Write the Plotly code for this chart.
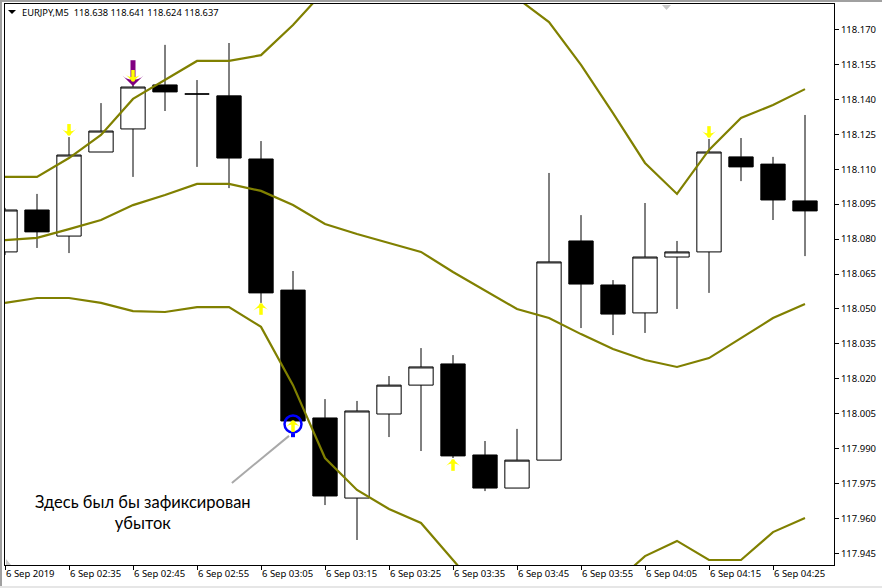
import plotly.graph_objects as go

# --- data ---
bars = list(range(26))
open_ = [118.0745, 118.0925, 118.0813, 118.1174, 118.1273, 118.1462, 118.1423, 118.1415, 118.1144, 118.0581,
         118.0032, 117.9688, 118.0049, 118.0173, 118.0264, 117.9873, 117.9731, 117.9851, 118.0792, 118.0603,
         118.0483, 118.0723, 118.0745, 118.1153, 118.1122, 118.0964]
high = [118.0934, 118.0994, 118.1238, 118.1384, 118.1526, 118.1634, 118.1483, 118.1642, 118.1221, 118.0663,
        118.0113, 118.0105, 118.0212, 118.0332, 118.0302, 117.9933, 117.9985, 118.1084, 118.0903, 118.0624,
        118.0955, 118.0792, 118.1230, 118.1234, 118.1153, 118.1333]
low = [118.0732, 118.0762, 118.0740, 118.1174, 118.1067, 118.1350, 118.1110, 118.1019, 118.0526, 118.0019,
       117.9658, 117.9508, 117.9950, 117.9890, 117.9860, 117.9718, 117.9731, 117.9851, 118.0418, 118.0388,
       118.0397, 118.0500, 118.0569, 118.1049, 118.0882, 118.0727]
close = [118.0925, 118.0831, 118.1161, 118.1264, 118.1453, 118.1432, 118.1423, 118.1148, 118.0569, 118.0019,
         117.9697, 118.0062, 118.0173, 118.0251, 117.9869, 117.9731, 117.9851, 118.0702, 118.0607, 118.0478,
         118.0723, 118.0745, 118.1174, 118.1110, 118.0968, 118.0921]
upper = [118.1067, 118.1067, 118.1148, 118.1247, 118.1402, 118.1483, 118.1565, 118.1565, 118.1590, 118.1719,
         118.1870, 118.1955, 118.2041, 118.2084, 118.2063, 118.1998, 118.1835, 118.1732, 118.1548, 118.1341,
         118.1127, 118.0994, 118.1183, 118.1320, 118.1376, 118.1444]
middle = [118.0796, 118.0805, 118.0843, 118.0882, 118.0946, 118.0989, 118.1037, 118.1037, 118.1007, 118.0946,
          118.0865, 118.0822, 118.0783, 118.0745, 118.0659, 118.0581, 118.0500, 118.0461, 118.0392, 118.0328,
          118.0281, 118.0251, 118.0289, 118.0375, 118.0461, 118.0521]
lower = [118.0526, 118.0547, 118.0547, 118.0526, 118.0491, 118.0487, 118.0508, 118.0508, 118.0423, 118.0173,
         117.9860, 117.9723, 117.9641, 117.9581, 117.9422, 117.9263, 117.9207, 117.9207, 117.9250, 117.9315,
         117.9439, 117.9504, 117.9422, 117.9422, 117.9542, 117.9602]

signal_down_x = [2, 4, 22]
signal_down_y = [118.1243, 118.1475, 118.1234]
signal_down_stem = [118.1270, 118.1502, 118.1261]
signal_up_x = [8, 9, 14]
signal_up_y = [118.0526, 118.0023, 117.9856]
signal_up_stem = [118.0499, 117.9996, 117.9829]
sell_x = [4]
sell_y = [118.1457]
sell_stem = [118.1520]
stop_x = [9]
stop_y = [118.0006]
stop_stem = [117.9958]

x_ticks = list(range(0, 25, 2))
x_labels = ["6 Sep 2019", "6 Sep 02:35", "6 Sep 02:45", "6 Sep 02:55", "6 Sep 03:05", "6 Sep 03:15",
            "6 Sep 03:25", "6 Sep 03:35", "6 Sep 03:45", "6 Sep 03:55", "6 Sep 04:05", "6 Sep 04:15", "6 Sep 04:25"]
y_ticks = [118.170, 118.155, 118.140, 118.125, 118.110, 118.095, 118.080, 118.065, 118.050, 118.035,
           118.020, 118.005, 117.990, 117.975, 117.960, 117.945]
y_labels = [f"{v:.3f}" for v in y_ticks]
title = "EURJPY,M5  118.638 118.641 118.624 118.637"
note = "Здесь был бы зафиксирован<br>убыток"

FONT = "Noto Sans"
OLIVE = "#808000"
W, H = 882, 588
L, R, T, B = 5, 48, 4, 23
PW, PH = W - L - R, H - T - B


def px(x):
    return (x - L) / PW


def py(y):
    return 1 - (y - T) / PH


def marks(x, y, symbol, size, color, width=0, line_color=None, angle=0):
    return go.Scatter(x=x, y=y, mode="markers", hoverinfo="skip", showlegend=False,
                      marker=dict(symbol=symbol, size=size, color=color, angle=angle,
                                  line=dict(width=width, color=line_color or color)))


fig = go.Figure()
fig.add_trace(go.Candlestick(
    x=bars, open=open_, high=high, low=low, close=close,
    increasing=dict(fillcolor="white", line=dict(color="black", width=1)),
    decreasing=dict(fillcolor="black", line=dict(color="black", width=1)),
    whiskerwidth=0, hoverinfo="skip", showlegend=False))
for s in (upper, middle, lower):
    fig.add_trace(go.Scatter(x=bars, y=s, mode="lines", line=dict(color=OLIVE, width=2.2),
                             hoverinfo="skip", showlegend=False))
fig.add_trace(marks(sell_x, sell_y, "arrow-wide", 15, "#800080", angle=180))
fig.add_trace(marks(sell_x, sell_stem, "line-ns", 16, "#800080", 5))
fig.add_trace(marks(stop_x, stop_y, "circle-open", 17, "#0000ff", 2.5, "#0000ff"))
fig.add_trace(marks(stop_x, stop_stem, "square", 4, "#0000ff"))
fig.add_trace(marks(signal_down_x, signal_down_y, "arrow-wide", 11, "#ffff00", angle=180))
fig.add_trace(marks(signal_down_x, signal_down_stem, "line-ns", 8, "#ffff00", 3.5))
fig.add_trace(marks(signal_up_x, signal_up_y, "arrow-wide", 11, "#ffff00"))
fig.add_trace(marks(signal_up_x, signal_up_stem, "line-ns", 8, "#ffff00", 3.5))

shapes = [
    # window frame
    dict(type="rect", xref="paper", yref="paper", x0=px(0), x1=px(2), y0=py(0), y1=py(H),
         fillcolor="#a0a0a0", line=dict(width=0), layer="above"),
    dict(type="rect", xref="paper", yref="paper", x0=px(0), x1=px(W), y0=py(0), y1=py(2),
         fillcolor="#a0a0a0", line=dict(width=0), layer="above"),
    dict(type="rect", xref="paper", yref="paper", x0=px(0), x1=px(W), y0=py(586), y1=py(H),
         fillcolor="#e6e6e6", line=dict(width=0), layer="above"),
    # chart corner and top triangles
    dict(type="path", xref="paper", yref="paper", layer="above", fillcolor="#c8c8c8", line=dict(width=0),
         path=f"M{px(6)},{py(565)} L{px(6)},{py(559)} L{px(11)},{py(565)} Z"),
    dict(type="path", xref="paper", yref="paper", layer="above", fillcolor="#c8c8c8", line=dict(width=0),
         path=f"M{px(662)},{py(5)} L{px(671)},{py(5)} L{px(666.5)},{py(10)} Z"),
    dict(type="path", xref="paper", yref="paper", layer="above", fillcolor="black", line=dict(width=0),
         path=f"M{px(8)},{py(10)} L{px(16)},{py(10)} L{px(12)},{py(14)} Z"),
    # pointer from the note to the stop mark
    dict(type="line", xref="x", yref="y", x0=7.09, y0=117.9753, x1=8.875, y1=117.9955,
         line=dict(color="#a9a9a9", width=2), layer="above"),
]

annotations = [
    dict(text=title, xref="paper", yref="paper", x=px(20), y=py(12), xanchor="left", yanchor="middle",
         showarrow=False, font=dict(family=FONT, size=9.3, color="black")),
    dict(text=note, xref="paper", yref="paper", x=px(143), y=py(512), xanchor="center", yanchor="middle",
         align="center", showarrow=False, font=dict(family="Lato", size=16.5, color="black")),
]

fig.update_layout(
    width=W, height=H, autosize=False,
    margin=dict(l=L, r=R, t=T, b=B, autoexpand=False),
    paper_bgcolor="white", plot_bgcolor="white",
    boxgap=0.24, boxgroupgap=0, showlegend=False, shapes=shapes, annotations=annotations,
    font=dict(family=FONT, size=9.5, color="black"),
    xaxis=dict(type="linear", range=[0, PW / 32], tickmode="array", tickvals=x_ticks, ticktext=x_labels,
               ticks="outside", ticklen=4, tickcolor="black", tickwidth=1, showgrid=False, zeroline=False,
               showline=True, linecolor="black", linewidth=1, mirror=True, rangeslider=dict(visible=False),
               ticklabelposition="outside right", ticklabeloverflow="allow", tickangle=0, automargin=False,
               tickfont=dict(family=FONT, size=9.5, color="black")),
    yaxis=dict(side="right", range=[117.94006, 118.18095], tickmode="array", tickvals=y_ticks, ticktext=y_labels,
               ticks="outside", ticklen=4, tickcolor="black", tickwidth=1, showgrid=False, zeroline=False,
               showline=True, linecolor="black", linewidth=1, mirror=True, automargin=False,
               tickfont=dict(family=FONT, size=9.5, color="black")),
)

fig.write_html("out.html", config={"displayModeBar": False},
               post_script="document.body.style.margin='0';document.documentElement.style.overflow='hidden';")
